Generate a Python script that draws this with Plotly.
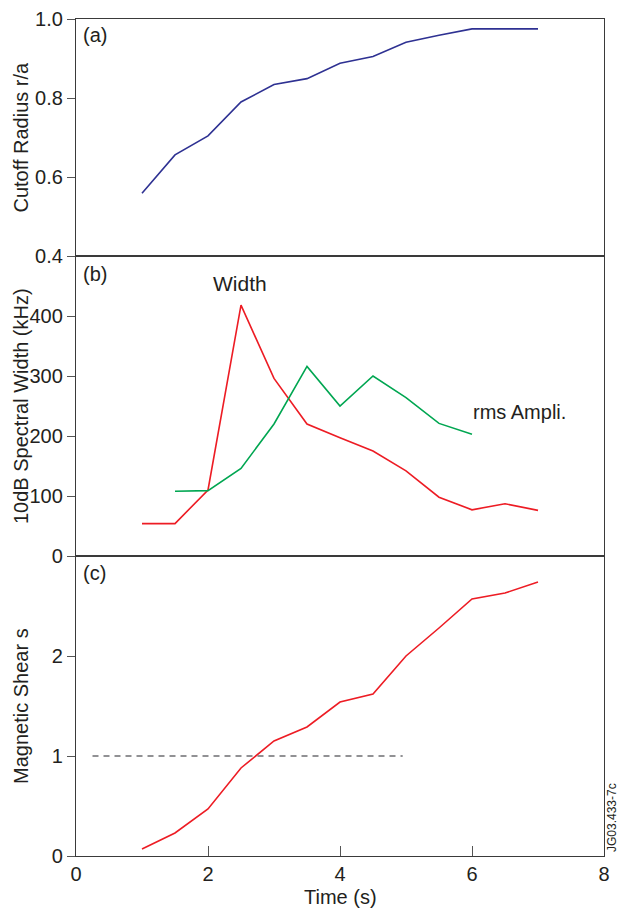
import plotly.graph_objects as go

# Time samples (s)
time_a = [1, 1.5, 2, 2.5, 3, 3.5, 4, 4.5, 5, 5.5, 6, 6.5, 7]
cutoff_radius = [0.559, 0.656, 0.704, 0.79, 0.834, 0.849, 0.888, 0.905, 0.941, 0.959, 0.975, 0.975, 0.975]

time_width = [1, 1.5, 2, 2.5, 3, 3.5, 4, 4.5, 5, 5.5, 6, 6.5, 7]
spectral_width = [54, 54, 110, 418, 296, 220, 197, 175, 142, 98, 77, 87, 76]

time_rms = [1.5, 2, 2.5, 3, 3.5, 4, 4.5, 5, 5.5, 6]
rms_ampli = [108, 109, 146, 220, 316, 250, 300, 264, 221, 203]

time_shear = [1, 1.5, 2, 2.5, 3, 3.5, 4, 4.5, 5, 5.5, 6, 6.5, 7]
magnetic_shear = [0.07, 0.23, 0.47, 0.88, 1.15, 1.29, 1.54, 1.62, 2.0, 2.28, 2.57, 2.63, 2.74]

shear_ref_x = [0.25, 4.95]
shear_ref_y = [1, 1]

x_ticks = [0, 2, 4, 6, 8]
ticks_a = [0.4, 0.6, 0.8, 1.0]
ticks_b = [0, 100, 200, 300, 400]
ticks_c = [0, 1, 2]

FONT = "Liberation Sans, Arial, sans-serif"
AX_LINE = "#3a3a3a"
TXT = "#231f20"
TICK_SIZE = 20
TITLE_SIZE = 20

# page geometry (pixels)
W, HT = 618, 911
ML, MR, MT, MB = 76, 14, 19, 55
PW = W - ML - MR
H = HT - MT - MB

fig = go.Figure()
fig.add_trace(go.Scatter(x=time_a, y=cutoff_radius, mode="lines",
                         line=dict(color="#2e3192", width=1.6), xaxis="x", yaxis="y"))
fig.add_trace(go.Scatter(x=time_width, y=spectral_width, mode="lines",
                         line=dict(color="#ed1c24", width=1.6), xaxis="x2", yaxis="y2"))
fig.add_trace(go.Scatter(x=time_rms, y=rms_ampli, mode="lines",
                         line=dict(color="#00a651", width=1.6), xaxis="x2", yaxis="y2"))
fig.add_trace(go.Scatter(x=time_shear, y=magnetic_shear, mode="lines",
                         line=dict(color="#ed1c24", width=1.6), xaxis="x3", yaxis="y3"))
fig.add_trace(go.Scatter(x=shear_ref_x, y=shear_ref_y, mode="lines",
                         line=dict(color="#6d6e71", width=1.3, dash="6px,5px"),
                         xaxis="x3", yaxis="y3"))

dom_c = [0, 300 / H]
dom_b = [300 / H, 600 / H]
dom_a = [600 / H, 1]

common_x = dict(range=[0, 8], showline=True, linecolor=AX_LINE, linewidth=1.3,
                mirror=True, showgrid=False, zeroline=False, automargin=False)
common_y = dict(showline=True, linecolor=AX_LINE, linewidth=1.3, mirror=True,
                showgrid=False, zeroline=False, ticks="outside", ticklen=8,
                tickcolor="#555", tickwidth=1.2, automargin=False,
                tickfont=dict(family=FONT, size=TICK_SIZE, color=TXT))

fig.update_layout(
    width=W, height=HT,
    margin=dict(l=ML, r=MR, t=MT, b=MB),
    paper_bgcolor="white", plot_bgcolor="white",
    showlegend=False,
    xaxis=dict(common_x, domain=[0, 1], anchor="y", showticklabels=False, ticks=""),
    yaxis=dict(common_y, domain=dom_a, anchor="x", range=[0.4, 1.0],
               tickvals=ticks_a, ticktext=["0.4", "0.6", "0.8", "1.0"]),
    xaxis2=dict(common_x, domain=[0, 1], anchor="y2", showticklabels=False, ticks=""),
    yaxis2=dict(common_y, domain=dom_b, anchor="x2", range=[0, 500], tickvals=ticks_b),
    xaxis3=dict(common_x, domain=[0, 1], anchor="y3", tickvals=x_ticks,
                ticks="inside", ticklen=10, tickcolor="#555", tickwidth=1.2,
                tickfont=dict(family=FONT, size=TICK_SIZE, color=TXT)),
    yaxis3=dict(common_y, domain=dom_c, anchor="x3", range=[0, 3], tickvals=ticks_c),
)

ann_font = dict(family=FONT, size=TITLE_SIZE, color=TXT)


def px_x(px):
    return (px - ML) / PW


def px_y(py):
    return (HT - MB - py) / H


# axis titles
for text, dom in [("Cutoff Radius r/a", dom_a),
                  ("10dB Spectral Width (kHz)", dom_b),
                  ("Magnetic Shear s", dom_c)]:
    fig.add_annotation(x=px_x(21), y=(dom[0] + dom[1]) / 2, xref="paper", yref="paper",
                       text=text, showarrow=False, textangle=-90,
                       xanchor="center", yanchor="middle", font=ann_font)
fig.add_annotation(x=0.5, y=px_y(897), xref="paper", yref="paper", text="Time (s)",
                   showarrow=False, xanchor="center", yanchor="middle", font=ann_font)

# panel labels and curve labels
fig.add_annotation(x=0.08, y=0.96, xref="x", yref="y", text="(a)", showarrow=False,
                   xanchor="left", yanchor="middle", font=ann_font)
fig.add_annotation(x=0.08, y=470, xref="x2", yref="y2", text="(b)", showarrow=False,
                   xanchor="left", yanchor="middle", font=ann_font)
fig.add_annotation(x=0.08, y=2.83, xref="x3", yref="y3", text="(c)", showarrow=False,
                   xanchor="left", yanchor="middle", font=ann_font)
fig.add_annotation(x=2.48, y=455, xref="x2", yref="y2", text="Width", showarrow=False,
                   xanchor="center", yanchor="middle",
                   font=dict(family=FONT, size=21, color=TXT))
fig.add_annotation(x=5.99, y=240, xref="x2", yref="y2", text="rms Ampli.", showarrow=False,
                   xanchor="left", yanchor="middle", font=ann_font)

# figure reference tag along the right edge
fig.add_annotation(x=px_x(612), y=px_y(818), xref="paper", yref="paper",
                   text="JG03.433-7c", showarrow=False, textangle=-90,
                   xanchor="center", yanchor="middle",
                   font=dict(family=FONT, size=12, color=TXT))

fig.write_html("out.html")
